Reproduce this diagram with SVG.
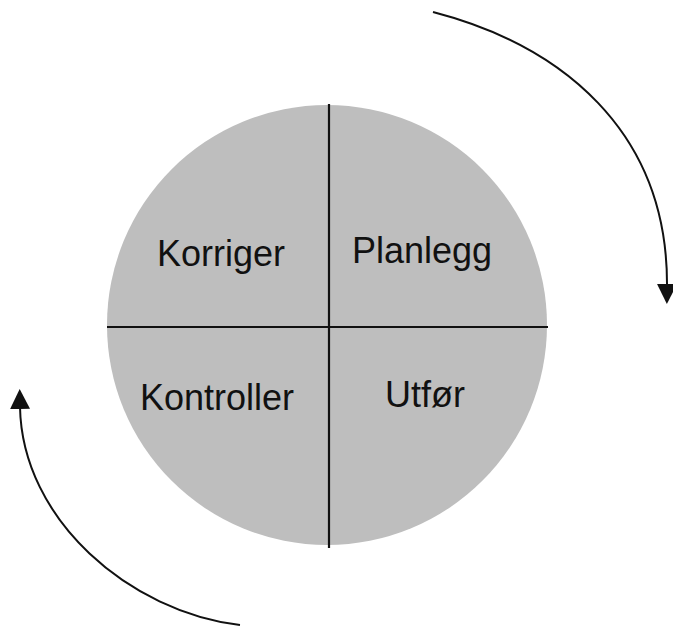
<svg xmlns="http://www.w3.org/2000/svg" width="673" height="628" viewBox="0 0 673 628">
  <style>
    .label { font-family: "Liberation Sans", Arial, sans-serif; font-size: 36px; fill: #111; }
    .divider { stroke: #111; stroke-width: 2.2; fill: none; }
    .flow { stroke: #111; stroke-width: 2; fill: none; }
  </style>
  <defs>
    <marker id="head" viewBox="0 0 20 20" refX="2" refY="10" markerWidth="20" markerHeight="20" markerUnits="userSpaceOnUse" orient="auto">
      <path d="M0,0 L20,10 L0,20 Z" fill="#111"/>
    </marker>
  </defs>
  <rect width="673" height="628" fill="#fff"/>

  <!-- cycle wheel -->
  <g id="wheel">
    <circle cx="327" cy="325" r="220" fill="#bebebe"/>
    <line class="divider" x1="329" y1="104" x2="329" y2="548"/>
    <line class="divider" x1="107" y1="327" x2="548" y2="327"/>
  </g>

  <g id="korriger"><text class="label" x="157" y="266">Korriger</text></g>
  <g id="planlegg"><text class="label" x="352" y="263">Planlegg</text></g>
  <g id="kontroller"><text class="label" x="140" y="410">Kontroller</text></g>
  <g id="utfor"><text class="label" x="385" y="407">Utfør</text></g>

  <!-- rotation arrows -->
  <g id="connectors">
    <path class="flow" d="M433,12 C560,45 668,130 667,286" marker-end="url(#head)"/>
    <path class="flow" d="M240,625 C130,612 22,520 20,407" marker-end="url(#head)"/>
  </g>
</svg>
